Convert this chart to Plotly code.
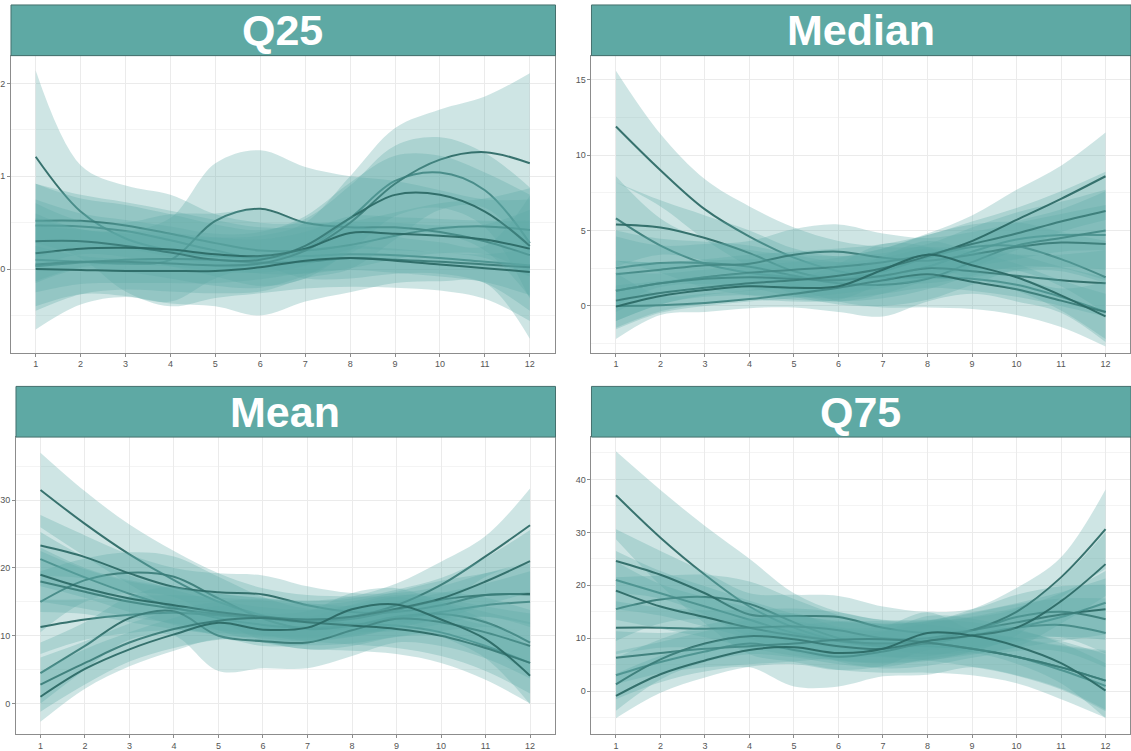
import plotly.graph_objects as go

MONTHS = list(range(1, 13))
TICK_LABELS = [str(m) for m in MONTHS]

PANEL_TITLES = ["Q25", "Median", "Mean", "Q75"]

# Smoothed fits per group and their confidence half-widths, Q25
Q25_FIT = [
    [1.21, 0.62, 0.33, 0.20, 0.14, 0.12, 0.14, 0.16, 0.15, 0.12, 0.08, 0.04],
    [0.47, 0.46, 0.41, 0.31, 0.20, 0.12, 0.22, 0.55, 0.95, 1.04, 0.85, 0.28],
    [0.52, 0.52, 0.47, 0.38, 0.28, 0.20, 0.20, 0.26, 0.36, 0.44, 0.46, 0.42],
    [0.10, 0.08, 0.06, 0.10, 0.52, 0.65, 0.50, 0.45, 0.45, 0.40, 0.30, 0.15],
    [0.03, 0.07, 0.10, 0.11, 0.10, 0.07, 0.08, 0.12, 0.10, 0.08, 0.05, 0.02],
    [0.05, 0.08, 0.08, 0.06, 0.04, 0.06, 0.20, 0.50, 0.92, 1.18, 1.26, 1.14],
    [0.30, 0.30, 0.25, 0.18, 0.10, 0.10, 0.25, 0.55, 0.80, 0.80, 0.62, 0.25],
    [0.17, 0.22, 0.23, 0.21, 0.16, 0.14, 0.22, 0.39, 0.38, 0.36, 0.32, 0.22],
    [0.00, -0.01, -0.02, -0.02, -0.02, 0.02, 0.09, 0.12, 0.09, 0.05, 0.01, -0.03],
]
Q25_HW = [
    [0.93, 0.50, 0.57, 0.60, 0.45, 0.38, 0.35, 0.35, 0.35, 0.35, 0.40, 0.60],
    [0.45, 0.30, 0.28, 0.28, 0.28, 0.30, 0.32, 0.35, 0.38, 0.38, 0.40, 0.60],
    [0.40, 0.28, 0.25, 0.25, 0.25, 0.25, 0.25, 0.25, 0.25, 0.27, 0.30, 0.45],
    [0.50, 0.35, 0.35, 0.45, 0.62, 0.63, 0.60, 0.55, 0.50, 0.45, 0.45, 0.60],
    [0.68, 0.45, 0.40, 0.48, 0.50, 0.57, 0.43, 0.37, 0.25, 0.21, 0.20, 0.77],
    [0.50, 0.35, 0.30, 0.30, 0.30, 0.30, 0.30, 0.50, 0.60, 0.54, 0.60, 0.97],
    [0.45, 0.30, 0.28, 0.28, 0.28, 0.30, 0.32, 0.38, 0.42, 0.42, 0.42, 0.55],
    [0.30, 0.20, 0.18, 0.18, 0.18, 0.18, 0.18, 0.18, 0.18, 0.18, 0.20, 0.30],
    [0.25, 0.15, 0.13, 0.13, 0.13, 0.13, 0.13, 0.13, 0.13, 0.13, 0.15, 0.25],
]

# Median
MED_FIT = [
    [11.9, 9.0, 6.4, 4.6, 3.2, 2.3, 1.9, 1.9, 1.8, 1.4, 0.6, -0.4],
    [5.8, 4.0, 2.8, 2.2, 1.9, 1.8, 2.0, 2.6, 3.6, 4.4, 4.7, 4.7],
    [5.4, 5.2, 4.5, 3.5, 2.3, 1.8, 2.3, 3.2, 3.9, 3.95, 3.1, 1.9],
    [2.5, 2.85, 2.85, 2.6, 2.0, 1.5, 1.4, 1.8, 2.9, 4.0, 4.5, 5.0],
    [2.1, 2.4, 2.7, 2.8, 3.4, 3.6, 3.2, 3.0, 3.4, 3.9, 4.2, 4.1],
    [1.0, 1.5, 1.9, 2.2, 2.4, 2.6, 2.9, 3.4, 4.1, 4.8, 5.6, 6.3],
    [1.0, 1.5, 1.8, 1.9, 1.8, 1.7, 2.0, 2.5, 2.3, 2.0, 1.7, 1.5],
    [0.0, 0.05, 0.2, 0.45, 0.8, 1.2, 1.7, 2.1, 1.6, 1.1, 0.35, -0.4],
    [0.35, 0.85, 1.2, 1.5, 1.7, 2.0, 2.5, 3.3, 4.3, 5.7, 7.1, 8.6],
    [-0.05, 0.65, 1.05, 1.3, 1.2, 1.3, 2.4, 3.4, 2.7, 1.9, 0.7, -0.7],
]
MED_HW = [
    [3.7, 2.4, 2.0, 2.0, 2.0, 2.0, 2.0, 2.0, 2.0, 2.0, 2.0, 2.3],
    [2.8, 1.8, 1.6, 1.5, 1.5, 1.5, 1.5, 1.5, 1.6, 1.8, 2.2, 3.0],
    [2.8, 1.8, 1.5, 1.5, 1.5, 1.5, 1.5, 1.5, 1.5, 1.6, 1.8, 2.4],
    [2.5, 1.6, 1.4, 1.4, 1.4, 1.4, 1.4, 1.4, 1.5, 1.6, 1.9, 2.6],
    [2.5, 1.6, 1.4, 1.5, 1.7, 1.8, 1.6, 1.5, 1.5, 1.6, 1.9, 2.6],
    [2.0, 1.4, 1.2, 1.2, 1.2, 1.2, 1.2, 1.3, 1.5, 1.7, 2.0, 2.6],
    [2.0, 1.4, 1.2, 1.2, 1.2, 1.2, 1.2, 1.3, 1.3, 1.4, 1.7, 2.2],
    [2.2, 0.65, 0.6, 0.6, 0.9, 1.6, 2.4, 1.8, 0.8, 0.8, 0.8, 2.0],
    [1.9, 1.3, 1.2, 1.2, 1.2, 1.2, 1.3, 1.5, 1.7, 2.0, 2.2, 2.9],
    [1.4, 1.0, 0.9, 0.9, 0.9, 0.9, 0.9, 0.9, 0.9, 0.9, 1.0, 1.5],
]

# Mean
MEAN_FIT = [
    [31.5, 26.5, 22.0, 18.2, 15.0, 13.0, 12.0, 11.8, 11.5, 10.5, 8.5, 6.0],
    [21.3, 18.6, 16.2, 14.2, 12.6, 11.6, 11.2, 11.5, 12.5, 13.5, 14.5, 15.0],
    [15.0, 18.2, 19.3, 18.7, 15.5, 12.5, 11.0, 11.5, 12.8, 13.2, 12.0, 9.0],
    [23.3, 21.6, 19.2, 17.2, 16.4, 16.1, 14.5, 13.5, 13.5, 14.5, 16.0, 16.1],
    [11.3, 12.4, 13.1, 13.4, 13.0, 12.6, 12.0, 12.5, 13.8, 15.3, 16.0, 16.2],
    [18.0, 16.5, 15.0, 14.0, 13.2, 12.6, 12.2, 12.8, 14.5, 17.5, 21.7, 26.3],
    [4.5, 8.5, 12.6, 13.6, 10.0, 9.2, 9.0, 10.8, 12.5, 12.0, 10.5, 8.5],
    [19.0, 17.0, 15.5, 14.5, 13.5, 12.8, 12.4, 12.8, 14.0, 15.5, 18.0, 21.0],
    [2.8, 6.0, 9.0, 11.0, 12.2, 12.6, 12.0, 11.5, 11.0, 10.0, 8.2, 6.0],
    [1.0, 5.1, 8.0, 10.2, 11.9, 10.9, 11.2, 13.9, 14.6, 12.4, 9.5, 4.1],
]
MEAN_HW = [
    [5.5, 4.8, 4.4, 4.3, 4.2, 4.0, 4.0, 4.0, 4.2, 4.5, 5.0, 6.0],
    [4.0, 3.0, 2.7, 2.6, 2.6, 2.6, 2.6, 2.6, 2.6, 2.8, 3.2, 4.5],
    [4.5, 3.2, 3.0, 3.0, 3.2, 3.2, 3.0, 3.0, 3.0, 3.2, 3.6, 4.8],
    [4.5, 3.2, 2.8, 2.8, 2.8, 2.8, 2.8, 2.8, 2.8, 2.8, 3.2, 4.8],
    [4.0, 3.0, 2.7, 2.6, 2.6, 2.6, 2.6, 2.6, 2.7, 2.8, 3.2, 4.5],
    [4.5, 3.3, 3.0, 3.0, 3.0, 3.0, 3.0, 3.0, 3.2, 3.4, 3.0, 5.4],
    [4.5, 3.5, 3.2, 3.6, 5.2, 4.0, 3.8, 3.8, 3.5, 3.5, 3.8, 4.8],
    [4.0, 3.0, 2.7, 2.7, 2.7, 2.7, 2.7, 2.7, 2.8, 3.0, 3.5, 4.6],
    [4.0, 3.2, 2.8, 2.8, 2.8, 2.8, 2.8, 2.8, 2.8, 3.0, 3.4, 4.5],
    [3.7, 2.9, 2.5, 2.4, 2.4, 2.4, 2.4, 2.4, 2.4, 2.5, 2.8, 4.2],
]

# Q75
Q75_FIT = [
    [37.0, 29.0, 22.0, 16.0, 12.0, 9.5, 8.5, 8.5, 8.0, 6.5, 4.0, 1.0],
    [21.0, 18.5, 16.0, 13.5, 11.0, 9.5, 9.0, 9.5, 10.5, 12.0, 14.0, 16.7],
    [15.5, 17.3, 17.8, 16.5, 13.0, 10.0, 8.5, 9.0, 10.5, 12.0, 12.5, 11.0],
    [24.6, 22.0, 18.5, 14.5, 14.2, 14.0, 12.0, 11.0, 11.5, 14.0, 15.0, 13.6],
    [12.0, 12.0, 11.8, 12.0, 12.2, 11.5, 10.0, 10.0, 11.5, 13.0, 14.5, 15.5],
    [19.0, 16.0, 14.0, 12.0, 10.5, 9.5, 9.0, 9.5, 11.5, 15.0, 21.5, 30.6],
    [3.0, 5.5, 7.5, 9.0, 7.8, 6.5, 7.5, 9.0, 8.0, 6.5, 4.5, 2.0],
    [6.3, 7.2, 8.0, 8.5, 9.0, 9.7, 9.8, 9.2, 8.0, 6.5, 4.5, 2.0],
    [1.3, 6.0, 9.0, 10.4, 9.8, 8.5, 8.0, 9.5, 10.5, 12.0, 17.0, 24.0],
    [-0.9, 3.2, 5.8, 7.8, 8.3, 7.2, 8.0, 11.0, 10.5, 8.5, 5.3, 0.1],
]
Q75_HW = [
    [8.3, 9.0, 9.2, 9.0, 6.5, 5.5, 5.0, 5.0, 5.0, 5.0, 5.5, 6.0],
    [5.5, 4.2, 3.8, 3.6, 3.6, 3.6, 3.6, 3.6, 3.6, 3.8, 4.5, 6.0],
    [6.0, 4.5, 4.2, 4.2, 4.4, 4.4, 4.2, 4.2, 4.2, 4.4, 5.0, 6.5],
    [6.0, 4.5, 4.0, 4.0, 4.0, 4.0, 4.0, 4.0, 4.0, 4.2, 4.8, 6.5],
    [5.0, 3.8, 3.5, 3.4, 3.4, 3.4, 3.4, 3.4, 3.4, 3.6, 4.2, 5.8],
    [5.5, 4.2, 3.8, 3.8, 3.8, 3.8, 3.8, 3.8, 4.0, 4.5, 3.8, 7.5],
    [4.5, 3.8, 3.8, 4.5, 6.9, 5.6, 4.7, 5.9, 3.5, 3.5, 4.0, 5.5],
    [5.0, 3.8, 3.5, 3.4, 3.4, 3.4, 3.4, 3.4, 3.4, 3.6, 4.2, 5.8],
    [5.0, 3.8, 3.5, 3.4, 3.4, 3.4, 3.4, 3.4, 3.4, 3.6, 4.2, 6.0],
    [4.2, 3.5, 3.2, 3.2, 3.2, 3.2, 3.2, 3.2, 3.2, 3.3, 3.8, 5.2],
]

FITS = [Q25_FIT, MED_FIT, MEAN_FIT, Q75_FIT]
HALF_WIDTHS = [Q25_HW, MED_HW, MEAN_HW, Q75_HW]

Y_RANGES = [(-0.9, 2.3), (-3.1, 16.6), (-4.5, 39.3), (-8.1, 48.0)]
Y_DTICK = [1, 5, 10, 10]

W, H = 1131, 751
# panel boxes in pixels: (left, right, strip_top, strip_bottom/plot_top, plot_bottom)
BOXES = [
    (10, 554, 5, 56, 355),
    (591, 1130, 5, 56, 355),
    (15, 554, 389, 440, 739),
    (591, 1130, 389, 440, 739),
]

STRIP_COLOR = "#5EA9A4"
FILL_COLOR = "rgba(94,169,164,0.30)"
LINE_COLOR = "rgba(42,104,100,0.92)"

fig = go.Figure()
layout = {}
shapes = []
annotations = []

for i, (title, fits, hws) in enumerate(zip(PANEL_TITLES, FITS, HALF_WIDTHS)):
    ax = "" if i == 0 else str(i + 1)
    xref, yref = "x" + ax, "y" + ax
    for fit, hw in zip(fits, hws):
        lower = [f - h for f, h in zip(fit, hw)]
        upper = [f + h for f, h in zip(fit, hw)]
        fig.add_trace(go.Scatter(
            x=MONTHS, y=lower, mode="lines", line=dict(width=0, shape="spline"),
            hoverinfo="skip", showlegend=False, xaxis=xref, yaxis=yref))
        fig.add_trace(go.Scatter(
            x=MONTHS, y=upper, mode="lines", line=dict(width=0, shape="spline"),
            fill="tonexty", fillcolor=FILL_COLOR,
            hoverinfo="skip", showlegend=False, xaxis=xref, yaxis=yref))
        fig.add_trace(go.Scatter(
            x=MONTHS, y=fit, mode="lines",
            line=dict(color=LINE_COLOR, width=2, shape="spline"),
            showlegend=False, xaxis=xref, yaxis=yref))

    left, right, s_top, p_top, p_bot = BOXES[i]
    xdom = [left / W, right / W]
    ydom = [1 - p_bot / H, 1 - p_top / H]
    axis_common = dict(
        showline=True, mirror=True, linecolor="#8C8C8C", linewidth=1,
        showgrid=True, gridcolor="#EBEBEB", gridwidth=1, zeroline=False,
        ticks="outside", ticklen=3, tickcolor="#8C8C8C",
        tickfont=dict(family="Liberation Sans, Arial, sans-serif", size=9, color="#555555"),
    )
    layout["xaxis" + ax] = dict(
        axis_common, domain=xdom, range=[0.45, 12.55],
        tickmode="array", tickvals=MONTHS, ticktext=TICK_LABELS,
        anchor=yref,
    )
    layout["yaxis" + ax] = dict(
        axis_common, domain=ydom, range=list(Y_RANGES[i]),
        dtick=Y_DTICK[i], tick0=0,
        minor=dict(dtick=Y_DTICK[i] / 2, showgrid=True, gridcolor="#F4F4F4", gridwidth=0.6),
        anchor=xref,
    )
    shapes.append(dict(
        type="rect", xref="paper", yref="paper",
        x0=left / W, x1=min(right + 1, W) / W,
        y0=1 - p_top / H, y1=1 - s_top / H,
        fillcolor=STRIP_COLOR, line=dict(color="#44706D", width=1), layer="above"))
    annotations.append(dict(
        text="<b>%s</b>" % title, xref="paper", yref="paper",
        x=(left + right) / 2 / W, y=1 - (s_top + p_top) / 2 / H,
        xanchor="center", yanchor="middle", showarrow=False,
        font=dict(family="Liberation Sans, Arial, sans-serif", size=43, color="white")))

fig.update_layout(
    width=W, height=H,
    margin=dict(l=0, r=0, t=0, b=0),
    paper_bgcolor="white", plot_bgcolor="white",
    shapes=shapes, annotations=annotations,
    showlegend=False,
    **layout,
)

fig.write_html("out.html")
